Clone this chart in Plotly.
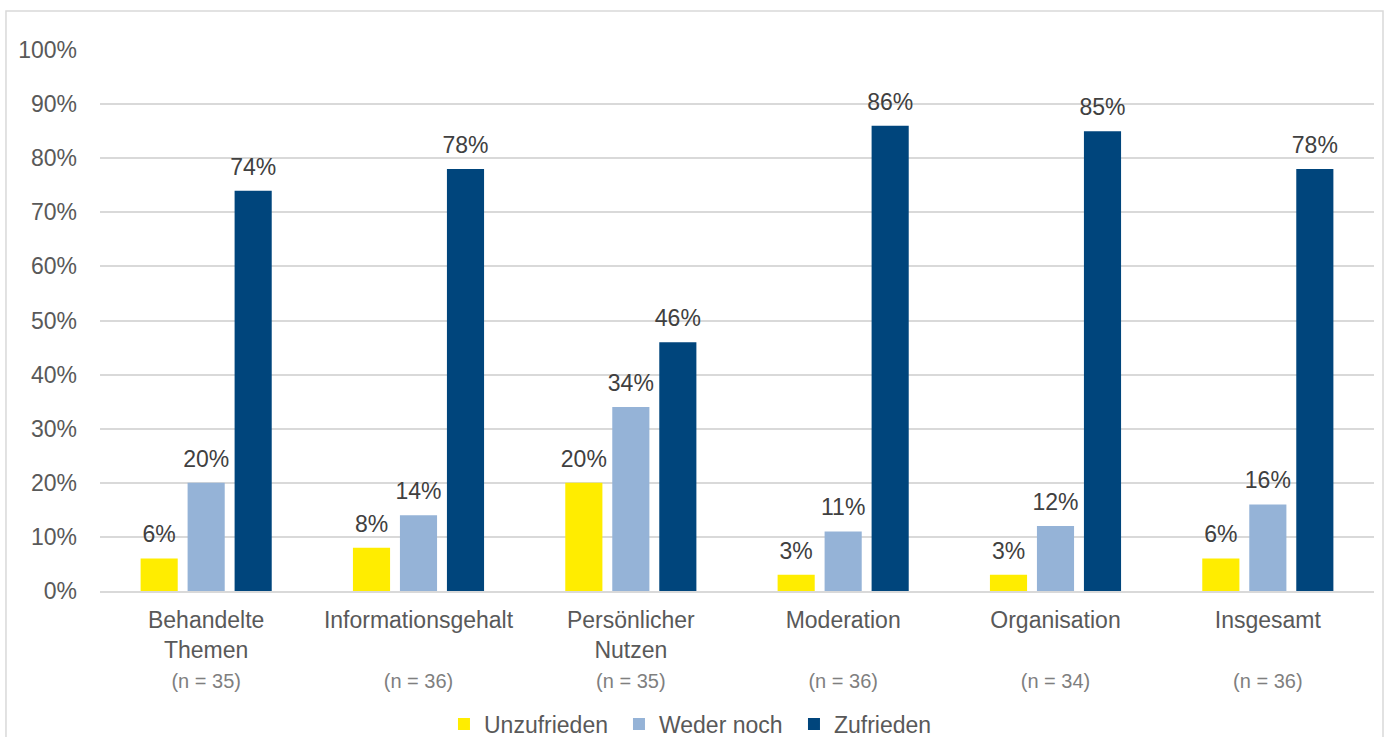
import plotly.graph_objects as go

categories = ["Behandelte Themen", "Informationsgehalt", "Persönlicher Nutzen", "Moderation", "Organisation", "Insgesamt"]
cat_lines = [["Behandelte", "Themen"], ["Informationsgehalt", ""], ["Persönlicher", "Nutzen"],
             ["Moderation", ""], ["Organisation", ""], ["Insgesamt", ""]]
n_values = [35, 36, 35, 36, 34, 36]
unzufrieden = [6, 8, 20, 3, 3, 6]
weder_noch = [20, 14, 34, 11, 12, 16]
zufrieden = [74, 78, 46, 86, 85, 78]
series_names = ["Unzufrieden", "Weder noch", "Zufrieden"]
colors = ["#FFED00", "#95B3D7", "#00457C"]

FONT = "Liberation Sans, Arial"

fig = go.Figure()
for i, (name, vals, col) in enumerate(zip(series_names, [unzufrieden, weder_noch, zufrieden], colors)):
    fig.add_trace(go.Bar(
        x=categories, y=vals, name=name, offsetgroup=str(i),
        marker=dict(color=col, line=dict(width=0)),
    ))
for i, (name, vals) in enumerate(zip(series_names, [unzufrieden, weder_noch, zufrieden])):
    fig.add_trace(go.Scatter(
        x=categories, y=vals, name=name, offsetgroup=str(i), mode="markers+text",
        marker=dict(size=15, color="rgba(0,0,0,0)"),
        text=[f"{v}%" for v in vals], textposition="top center",
        textfont=dict(family=FONT, size=23, color="#404040"),
        showlegend=False, hoverinfo="skip", cliponaxis=False,
    ))

ticktext = []
for lines, n in zip(cat_lines, n_values):
    l2 = lines[1] if lines[1] else "&nbsp;"
    ticktext.append(f"{lines[0]}<br>{l2}<br><span style='font-size:20px;color:#7f7f7f'>(n = {n})</span>")

fig.update_layout(
    width=1390, height=737,
    margin=dict(l=100, r=16, t=50, b=146),
    paper_bgcolor="white", plot_bgcolor="white",
    barmode="group", bargap=0.336, bargroupgap=0.21,
    scattermode="group", scattergap=0.336,
    font=dict(family=FONT, size=23, color="#595959"),
    xaxis=dict(tickvals=categories, ticktext=ticktext, showline=True, linecolor="#d9d9d9",
               linewidth=1.5, ticks="", automargin=False, ticklabelstandoff=8,
               tickfont=dict(size=23, color="#595959")),
    yaxis=dict(range=[0, 100], dtick=10, ticksuffix="%", showgrid=True, gridcolor="#d9d9d9",
               gridwidth=1.5, zeroline=False, ticks="", ticklabelstandoff=22, automargin=False,
               tickfont=dict(size=23, color="#595959")),
    legend=dict(orientation="h", x=0.270, xanchor="left", xref="paper",
                y=0.0176, yanchor="middle", yref="container",
                font=dict(size=23, color="#595959"), traceorder="normal",
                entrywidth=130, entrywidthmode="pixels"),
    shapes=[dict(type="rect", xref="paper", yref="paper", x0=-0.0738, x1=1.00706,
                 y0=-0.3, y1=1.0721, line=dict(color="#d9d9d9", width=1.5), layer="below")],
)

fig.write_html("out.html")
